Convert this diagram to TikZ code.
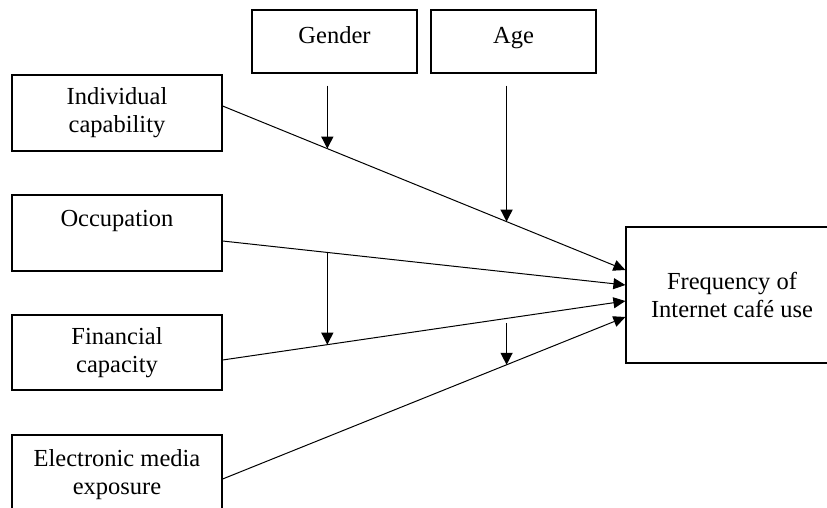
\documentclass[tikz,border=0pt]{standalone}
\usepackage{fontspec}
\setmainfont{Liberation Serif}
\usetikzlibrary{arrows.meta,calc}
\begin{document}
\begin{tikzpicture}[x=1pt,y=1pt,
  box/.style={draw, line width=1.2pt, inner sep=0pt},
  lbl/.style={font=\fontsize{24.5}{28}\selectfont, align=center, inner sep=0pt},
  link/.style={line width=1pt, -{Triangle[length=12pt,width=11pt]}},
  mod/.style={line width=1.3pt, -{Triangle[length=12pt,width=12pt]}}]
\useasboundingbox (0,0) rectangle (827,-508);
% boxes
\node[box, minimum width=165pt, minimum height=63pt] (gender) at (334.5,-41.5) {};
\node[box, minimum width=165pt, minimum height=63pt] (age) at (513.5,-41.5) {};
\node[box, minimum width=210pt, minimum height=76pt] (ic) at (117,-113) {};
\node[box, minimum width=210pt, minimum height=76pt] (oc) at (117,-233) {};
\node[box, minimum width=210pt, minimum height=75pt] (fi) at (117,-352.5) {};
\node[box, minimum width=210pt, minimum height=76pt] (el) at (117,-473) {};
\node[box, minimum width=212pt, minimum height=136pt] (freq) at (732,-295) {};
% labels
\node[lbl, anchor=base] (genderT) at (334.5,-44) {Gender};
\node[lbl, anchor=base] (ageT) at (513.5,-44) {Age};
\node[lbl] (icT) at (117,-113) {Individual\\capability};
\node[lbl, anchor=base] (ocT) at (117,-226) {Occupation};
\node[lbl] (fiT) at (117,-353) {Financial\\capacity};
\node[lbl] (elT) at (117,-475) {Electronic media\\exposure};
\node[lbl] (freqT) at (732,-295) {Frequency of\\Internet café use};
% connector end points
\coordinate (icS) at ([yshift=7pt]ic.east);
\coordinate (icE) at ([yshift=25pt]freq.west);
\coordinate (ocS) at ([yshift=-8pt]oc.east);
\coordinate (ocE) at ([yshift=10pt]freq.west);
\coordinate (fiS) at ([yshift=-7.5pt]fi.east);
\coordinate (fiE) at ([yshift=-6pt]freq.west);
\coordinate (elS) at ([yshift=-6pt]el.east);
\coordinate (elE) at ([yshift=-22pt]freq.west);
% main connectors
\draw[link] (icS) -- (icE);
\draw[link] (ocS) -- (ocE);
\draw[link] (fiS) -- (fiE);
\draw[link] (elS) -- (elE);
% moderator targets
\coordinate (m1) at ($(icS)!0.26!(icE)$);
\coordinate (m2) at ($(icS)!0.705!(icE)$);
\coordinate (m3) at ($(ocS)!0.26!(ocE)$);
\coordinate (m4) at ($(fiS)!0.26!(fiE)$);
\coordinate (m5) at ($(fiS)!0.705!(fiE)$);
\coordinate (m6) at ($(elS)!0.705!(elE)$);
% moderator arrows
\draw[mod] ($(gender.south -| m1)+(0,-12pt)$) -- (m1);
\draw[mod] ($(age.south -| m2)+(0,-12pt)$) -- (m2);
\draw[mod] (m3) -- (m4);
\draw[mod] ($(m5)+(0,-4.5pt)$) -- (m6);
\end{tikzpicture}
\end{document}
